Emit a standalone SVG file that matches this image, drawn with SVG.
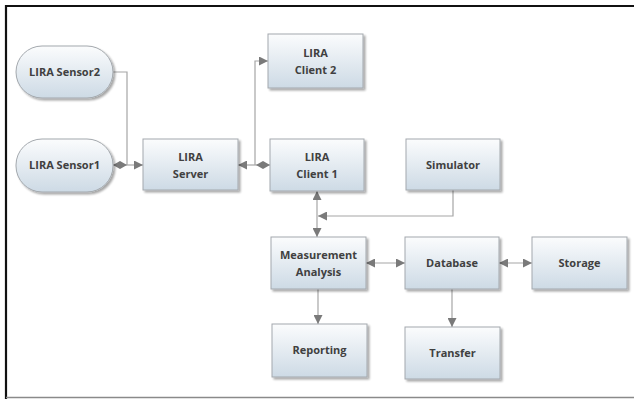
<svg xmlns="http://www.w3.org/2000/svg" width="634" height="399" viewBox="0 0 634 399">
<defs>
<linearGradient id="g" x1="0" y1="0" x2="0" y2="1">
<stop offset="0" stop-color="#fbfcfd"/>
<stop offset="1" stop-color="#cddae5"/>
</linearGradient>
<filter id="sh" x="-10%" y="-10%" width="130%" height="140%">
<feGaussianBlur in="SourceAlpha" stdDeviation="1.2"/>
<feOffset dx="2" dy="2"/>
<feComponentTransfer><feFuncA type="linear" slope="0.35"/></feComponentTransfer>
<feMerge><feMergeNode/><feMergeNode in="SourceGraphic"/></feMerge>
</filter>
<marker id="ar" viewBox="0 0 10 10" refX="10" refY="5" markerWidth="9" markerHeight="9" markerUnits="userSpaceOnUse" orient="auto-start-reverse">
<path d="M0,0 L10,5 L0,10 z" fill="#7a7a7a"/>
</marker>
<marker id="dm" viewBox="0 0 14 8" refX="14" refY="4" markerWidth="14" markerHeight="8" markerUnits="userSpaceOnUse" orient="auto-start-reverse">
<path d="M0,4 L7,0 L14,4 L7,8 z" fill="#7a7a7a"/>
</marker>
</defs>
<style>
.b{fill:url(#g);stroke:#a3a8ad;stroke-width:1;filter:url(#sh)}
.t{font-family:"Open Sans","Noto Sans",sans-serif;font-size:11px;font-weight:700;fill:#404040;text-anchor:middle}
.c{fill:none;stroke:#a6a6a6;stroke-width:1.2}
</style>
<rect x="0" y="0" width="634" height="399" fill="#fff"/>
<path d="M6,399 V6 H634" fill="none" stroke="#111" stroke-width="2.2"/>
<line x1="6" y1="397.5" x2="634" y2="397.5" stroke="#8a8a8a" stroke-width="1.5"/>

<g id="connectors">
<path class="c" d="M113,72 H127 V165"/>
<path class="c" d="M113,165 H143" marker-start="url(#dm)" marker-end="url(#ar)"/>
<path class="c" d="M270,165 H238" marker-start="url(#dm)" marker-end="url(#ar)"/>
<path class="c" d="M255,165 V61 H268" marker-end="url(#ar)"/>
<path class="c" d="M317,191 V237" marker-start="url(#ar)" marker-end="url(#ar)"/>
<path class="c" d="M453,190 V216 H318" marker-end="url(#ar)"/>
<path class="c" d="M366,263 H405" marker-start="url(#ar)" marker-end="url(#ar)"/>
<path class="c" d="M499,263 H532" marker-start="url(#ar)" marker-end="url(#ar)"/>
<path class="c" d="M318,289 V324" marker-end="url(#ar)"/>
<path class="c" d="M452,289 V327" marker-end="url(#ar)"/>
</g>

<g id="sensor2"><rect class="b" x="16" y="46" width="97" height="52" rx="26"/><text class="t" x="64.5" y="76">LIRA Sensor2</text></g>
<g id="sensor1"><rect class="b" x="16" y="139" width="97" height="53" rx="26"/><text class="t" x="64.5" y="169">LIRA Sensor1</text></g>
<g id="server"><rect class="b" x="143" y="139" width="95" height="51"/><text class="t" x="190.5" y="161">LIRA</text><text class="t" x="190.5" y="178">Server</text></g>
<g id="client2"><rect class="b" x="268" y="34" width="95" height="54"/><text class="t" x="315.5" y="57">LIRA</text><text class="t" x="315.5" y="74">Client 2</text></g>
<g id="client1"><rect class="b" x="270" y="139" width="94" height="52"/><text class="t" x="317" y="161">LIRA</text><text class="t" x="317" y="178">Client 1</text></g>
<g id="simulator"><rect class="b" x="406" y="139" width="94" height="51"/><text class="t" x="453" y="169">Simulator</text></g>
<g id="measurement"><rect class="b" x="271" y="237" width="95" height="52"/><text class="t" x="318.5" y="259">Measurement</text><text class="t" x="318.5" y="276">Analysis</text></g>
<g id="database"><rect class="b" x="405" y="237" width="94" height="52"/><text class="t" x="452" y="267">Database</text></g>
<g id="storage"><rect class="b" x="532" y="237" width="95" height="52"/><text class="t" x="579.5" y="267">Storage</text></g>
<g id="reporting"><rect class="b" x="272" y="324" width="95" height="53"/><text class="t" x="319.5" y="354">Reporting</text></g>
<g id="transfer"><rect class="b" x="405" y="327" width="95" height="52"/><text class="t" x="452.5" y="357">Transfer</text></g>
</svg>
